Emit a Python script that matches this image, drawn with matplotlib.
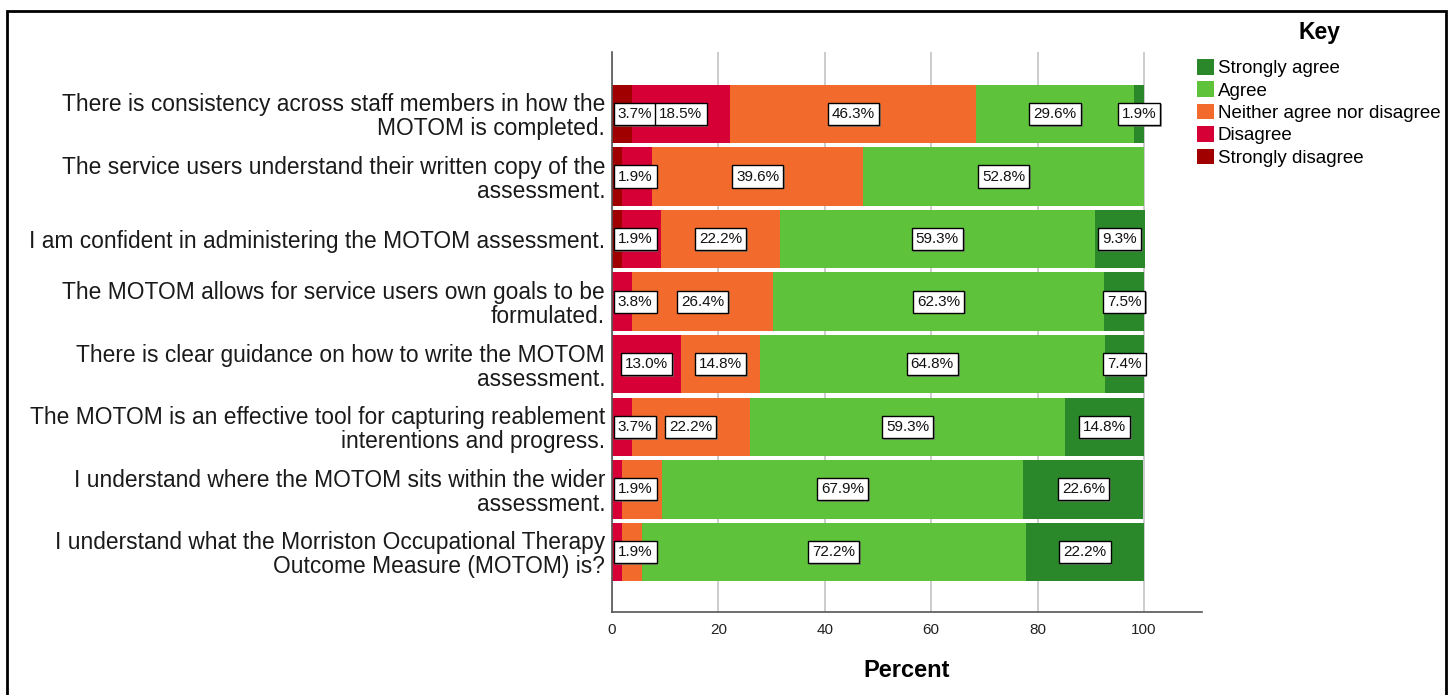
import matplotlib
matplotlib.use("Agg")
import matplotlib.pyplot as plt
from matplotlib.patches import Rectangle, Patch
import matplotlib.patheffects as pe
import numpy as np

plt.rcParams['font.family'] = ['Liberation Sans', 'DejaVu Sans']

questions = [
    "There is consistency across staff members in how the\nMOTOM is completed.",
    "The service users understand their written copy of the\nassessment.",
    "I am confident in administering the MOTOM assessment.",
    "The MOTOM allows for service users own goals to be\nformulated.",
    "There is clear guidance on how to write the MOTOM\nassessment.",
    "The MOTOM is an effective tool for capturing reablement\ninterentions and progress.",
    "I understand where the MOTOM sits within the wider\nassessment.",
    "I understand what the Morriston Occupational Therapy\nOutcome Measure (MOTOM) is?",
]

categories = ["Strongly disagree", "Disagree", "Neither agree nor disagree", "Agree", "Strongly agree"]
colors = ["#a00000", "#d70036", "#f26b2d", "#5ec23a", "#2a882a"]

strongly_disagree = [3.7, 1.9, 1.9, 0.0, 0.0, 0.0, 0.0, 0.0]
disagree          = [18.5, 5.7, 7.4, 3.8, 13.0, 3.7, 1.9, 1.9]
neither           = [46.3, 39.6, 22.2, 26.4, 14.8, 22.2, 7.5, 3.7]
agree             = [29.6, 52.8, 59.3, 62.3, 64.8, 59.3, 67.9, 72.2]
strongly_agree    = [1.9, 0.0, 9.3, 7.5, 7.4, 14.8, 22.6, 22.2]

# which segment labels are displayed (SPSS hides overlapping ones)
shown_sd = [True, True, True, False, False, False, False, False]
shown_d  = [True, False, False, True, True, True, True, True]
shown_n  = [True, True, True, True, True, True, False, False]
shown_a  = [True, True, True, True, True, True, True, True]
shown_sa = [True, False, True, True, True, True, True, True]

series = [strongly_disagree, disagree, neither, agree, strongly_agree]
shown = [shown_sd, shown_d, shown_n, shown_a, shown_sa]

x_ticks = [0, 20, 40, 60, 80, 100]

W, H = 1453, 695
fig = plt.figure(figsize=(W / 100, H / 100), dpi=100)

# outer frame
fig.patches.append(Rectangle((7 / W, -0.05), (1446 - 7) / W, 1.05 - 11 / H,
                             transform=fig.transFigure, fill=False,
                             edgecolor="black", linewidth=2))

ax = fig.add_axes([612 / W, 1 - 612 / H, 590 / W, 560 / H])

n = len(questions)
ypos = np.arange(n)[::-1]
left = np.zeros(n)
box = dict(boxstyle="square,pad=0.27", fc="white", ec="black", lw=1)
for vals, col, sh in zip(series, colors, shown):
    vals = np.array(vals)
    ax.barh(ypos, vals, left=left, height=0.935, color=col, edgecolor="none", zorder=2)
    for i in range(n):
        v = vals[i]
        if v <= 0 or not sh[i]:
            continue
        c = left[i] + v / 2
        if c < 4.4:
            t = ax.text(1.1, ypos[i], f"{v:.1f}%", ha="left", va="center", fontsize=11,
                        color="#111111", zorder=5, bbox=box)
        else:
            t = ax.text(c, ypos[i], f"{v:.1f}%", ha="center", va="center", fontsize=11,
                        color="#111111", zorder=5, bbox=box)
        t.get_bbox_patch().set_path_effects([
            pe.SimplePatchShadow(offset=(1.2, -1.2), shadow_rgbFace="#777777", alpha=0.7),
            pe.Normal()])
    left = left + vals

ax.set_xlim(0, 110.9)
ax.set_ylim(-0.96, n - 1 + 0.99)
ax.set_xticks(x_ticks)
ax.set_xticklabels([str(t) for t in x_ticks], fontsize=11, color="#222222")
ax.set_yticks(ypos)
ax.set_yticklabels(questions, fontsize=16.4, color="#1a1a1a", linespacing=1.05)
ax.tick_params(axis="y", length=0, pad=5)
ax.tick_params(axis="x", length=0, pad=8)
ax.xaxis.grid(True, color="#c4c4c4", linewidth=1.2, zorder=0)
ax.set_axisbelow(True)
for s in ["top", "right"]:
    ax.spines[s].set_visible(False)
for s in ["left", "bottom"]:
    ax.spines[s].set_color("#555555")
    ax.spines[s].set_linewidth(1.2)

ax.set_xlabel("Percent", fontsize=17, fontweight="bold", labelpad=16)

handles = [Patch(facecolor=c, edgecolor="none") for c in colors[::-1]]
leg = fig.legend(handles, categories[::-1], loc="upper left",
                 bbox_to_anchor=(1197 / W, 1 - 59 / H), frameon=False,
                 fontsize=13.5, handlelength=0.9, handleheight=0.9,
                 handletextpad=0.2, labelspacing=0.22, borderpad=0,
                 borderaxespad=0)
fig.text(1320 / W, 1 - 33 / H, "Key", ha="center", va="center",
         fontsize=16.5, fontweight="bold")

fig.savefig("out.png", dpi=100)
